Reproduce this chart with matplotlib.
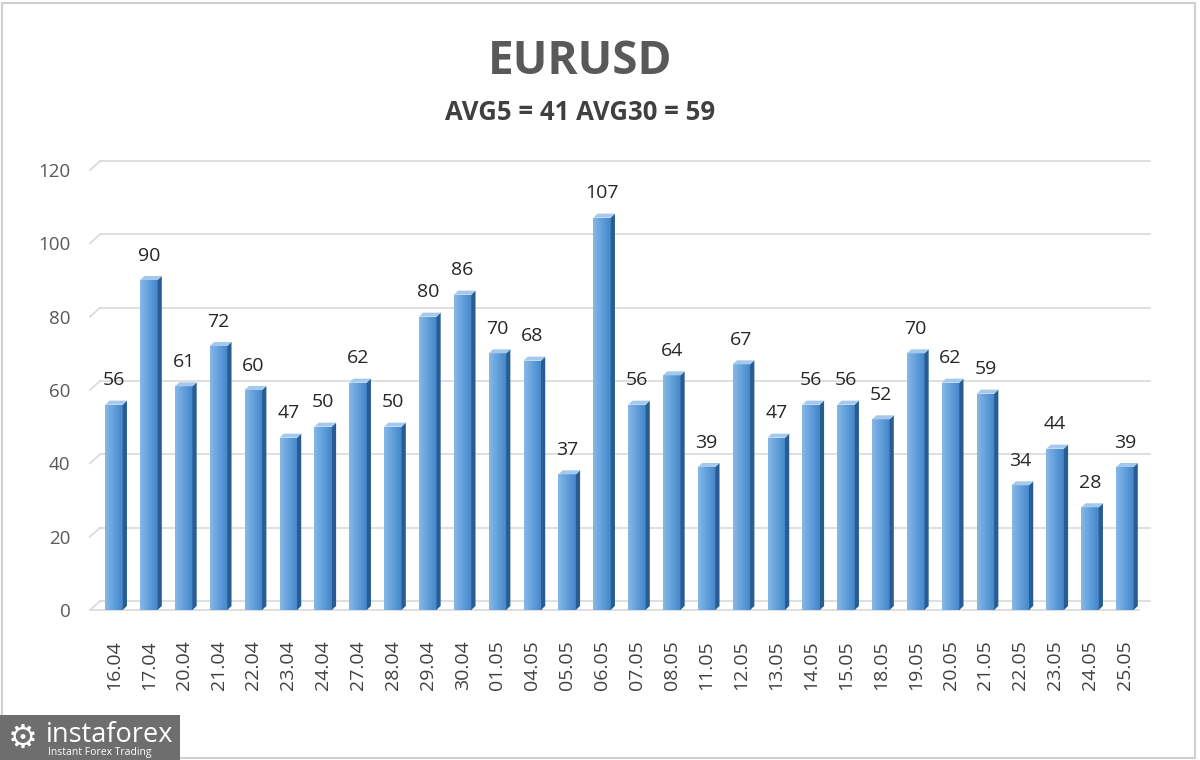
import matplotlib
matplotlib.use("Agg")
import matplotlib.pyplot as plt
import numpy as np
from matplotlib.patches import Polygon, Rectangle
from matplotlib.colors import LinearSegmentedColormap

dates = ["16.04", "17.04", "20.04", "21.04", "22.04", "23.04", "24.04", "27.04", "28.04",
         "29.04", "30.04", "01.05", "04.05", "05.05", "06.05", "07.05", "08.05", "11.05",
         "12.05", "13.05", "14.05", "15.05", "18.05", "19.05", "20.05", "21.05", "22.05",
         "23.05", "24.05", "25.05"]
values = [56, 90, 61, 72, 60, 47, 50, 62, 50, 80, 86, 70, 68, 37, 107, 56, 64, 39, 67,
          47, 56, 56, 52, 70, 62, 59, 34, 44, 28, 39]
yticks = [0, 20, 40, 60, 80, 100, 120]
title = "EURUSD"
subtitle = "AVG5 = 41 AVG30 = 59"

plt.rcParams['font.family'] = ['Open Sans', 'DejaVu Sans']
fig = plt.figure(figsize=(12, 7.6), dpi=100)
fig.patch.set_facecolor("white")

ax = fig.add_axes([90/1200, 150/760, 1060/1200, 440/760])
ax.set_xlim(-0.69, 29.72)
ax.set_ylim(0, 120)
for s in ax.spines.values():
    s.set_visible(False)

# perspective offsets
gdx, gdy = 0.29, 2.45
bdx, bdy = 0.12, 1.1
w = 0.5
gridc = "#d9d9d9"

for t in yticks:
    ax.plot([-0.69, -0.69 + gdx], [t, t + gdy], color=gridc, lw=1.2, zorder=1, clip_on=False)
    ax.plot([-0.69 + gdx, 29.72], [t + gdy, t + gdy], color=gridc, lw=1.2, zorder=1, clip_on=False)
ax.plot([-0.69, 29.4], [0, 0], color=gridc, lw=1.2, zorder=1, clip_on=False)

cmap = LinearSegmentedColormap.from_list("bar", ["#86b8e6", "#619fdb", "#4585c9"])
grad = np.linspace(0, 1, 64).reshape(1, -1)
x = np.arange(len(values))
bars = ax.bar(x, values, width=w, color="#5b9bd5", zorder=3, linewidth=0)
for xi, v, b in zip(x, values, bars):
    im = ax.imshow(grad, cmap=cmap, aspect="auto", extent=[xi - w/2, xi + w/2, 0, v],
                   zorder=3.1, interpolation="bicubic")
    im.set_clip_path(b)
    side = Polygon([(xi + w/2, 0), (xi + w/2 + bdx, bdy), (xi + w/2 + bdx, v + bdy), (xi + w/2, v)],
                   closed=True, facecolor="#275d92", edgecolor="none", zorder=3.2)
    top = Polygon([(xi - w/2, v), (xi - w/2 + bdx, v + bdy), (xi + w/2 + bdx, v + bdy), (xi + w/2, v)],
                  closed=True, facecolor="#a4c9ec", edgecolor="none", zorder=3.2)
    ax.add_patch(side)
    ax.add_patch(top)
    ax.annotate(str(v), (xi, v), xytext=(0, 11), textcoords="offset points",
                ha="center", va="bottom", fontsize=14, color="#262626", zorder=5)
ax.set_xlim(-0.69, 29.72)
ax.set_ylim(0, 120)

ax.set_yticks(yticks)
ax.set_yticklabels([str(t) for t in yticks], fontsize=13.5, color="#595959")
ax.set_xticks(x)
ax.set_xticklabels(dates, rotation=90, fontsize=14, color="#404040")
ax.tick_params(axis="y", length=0, pad=14)
ax.tick_params(axis="x", length=0, pad=22)

fig.text(580/1200, 1 - 62/760, title, ha="center", va="center", fontsize=33,
         fontweight="bold", color="#595959")
fig.text(580/1200, 1 - 113/760, subtitle, ha="center", va="center", fontsize=18.5,
         fontweight="bold", color="#404040")

# frame border
fig.add_artist(Rectangle((2/1200, 2/760), 1193/1200, 755/760, transform=fig.transFigure,
                         fill=False, edgecolor="#d0d0d0", lw=1.5))

# logo
fig.add_artist(Rectangle((0, 0), 180/1200, 45/760, transform=fig.transFigure,
                         facecolor="#6e6e6e", edgecolor="none"))
fig.text(23/1200, 1 - 738/760, "\u2699", ha="center", va="center", fontsize=24,
         color="white", family="DejaVu Sans")
fig.text(46/1200, 1 - 742/760, "instaforex", ha="left", va="baseline", fontsize=19.5,
         color="white")
fig.text(48/1200, 1 - 755/760, "Instant Forex Trading", ha="left", va="baseline", fontsize=7.5,
         color="white")

fig.savefig("out.png", dpi=100)
